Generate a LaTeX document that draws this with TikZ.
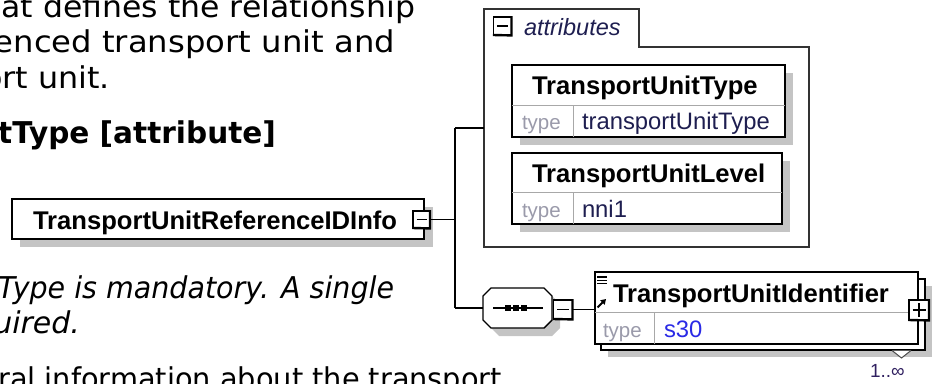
\documentclass[tikz,border=0pt]{standalone}
\usepackage{fontspec}
\newfontfamily\vfont{DejaVu Sans}
\newfontfamily\afont{Liberation Sans}
\usetikzlibrary{arrows.meta}
\definecolor{shadowc}{HTML}{C4C4C4}
\definecolor{typec}{HTML}{9A9AAA}
\definecolor{valc}{HTML}{1E1E50}
\definecolor{linkc}{HTML}{2A2AE6}
\definecolor{divc}{HTML}{A8A8A8}
\definecolor{multc}{HTML}{302060}
\newcommand\xsicon[4]{% name, x, y, size
  \node[iconbox, minimum size=#4pt] (#1) at (#2,#3) {};
  \draw[line width=2.4pt] ([yshift=1pt]#1.north east) -- ([yshift=-0.4pt]#1.south east) -- ([xshift=-0.6pt]#1.south west);
  \draw[line width=1.3pt] ([xshift=3.5pt]#1.west) -- ([xshift=-3.5pt]#1.east);
}
\newcommand\hs[2]{\scalebox{#1}[1]{#2}}
\begin{document}
\begin{tikzpicture}[x=1pt,y=-1pt,
  every node/.style={inner sep=0pt, outer sep=0pt},
  body/.style={font=\vfont\fontsize{30}{36}\selectfont, anchor=base east, text=black},
  bodyb/.style={font=\vfont\bfseries\fontsize{30}{36}\selectfont, anchor=base east, text=black},
  bodyi/.style={font=\vfont\itshape\fontsize{30}{36}\selectfont, anchor=base east, text=black},
  elname/.style={font=\afont\bfseries\fontsize{25.6}{30}\selectfont, anchor=base west, text=black},
  typelbl/.style={font=\afont\fontsize{20.5}{24}\selectfont, anchor=base west, text=typec},
  typeval/.style={font=\afont\fontsize{23.8}{28}\selectfont, anchor=base west, text=valc},
  elbox/.style={draw=black, fill=white, line width=1.4pt, anchor=north west},
  iconbox/.style={draw=black, fill=white, line width=1.3pt},
  conn/.style={draw=black, line width=1.4pt},
  divline/.style={draw=divc, line width=1pt}
]
\useasboundingbox (0,0) rectangle (932,383);
\clip (0,0) rectangle (932,383);

% ---- body text (cut off at the left edge) ----
\node[body] (t1) at (415,17) {\hs{1.05}{that defines the relationship}};
\node[body] (t2) at (395,52) {\hs{1.075}{referenced transport unit and}};
\node[body] (t3) at (110,88) {\hs{1.06}{transport unit.}};
\node[bodyb] (t4) at (276,143) {\hs{0.985}{TransportUnitType [attribute]}};
\node[bodyi] (t5) at (394,298) {\hs{0.95}{TransportUnitType is mandatory. A single}};
\node[bodyi] (t6) at (80,333) {is required.};
\node[body] (t7) at (502,389) {\hs{0.96}{General information about the transport}};

% ---- main element ----
\fill[shadowc] (20,207) rectangle (433,247);
\node[elbox, minimum width=412pt, minimum height=40pt] (main) at (12,199) {};
\node[elname] (mainname) at (33,229) {TransportUnitReferenceIDInfo};
\xsicon{mainicon}{421.5}{219.5}{17}

% ---- attributes group ----
\draw[draw=black!80, line width=1.4pt] (484,247) -- (484,9) -- (639,9) -- (639,47) -- (809,47) -- (809,247) -- cycle;
\xsicon{attricon}{502.5}{26}{18}
\node[font=\afont\itshape\fontsize{23.5}{28}\selectfont, anchor=base west, text=valc] (attrlbl) at (524,35) {attributes};
\coordinate (attrL) at (484,128);

% attribute TransportUnitType
\fill[shadowc] (520,73) rectangle (793,145);
\node[elbox, minimum width=273pt, minimum height=72pt] (a1) at (512,65) {};
\draw[divline] (512,105) -- (785,105);
\draw[divline] (573,105) -- (573,137);
\node[elname] (a1name) at (532,94) {TransportUnitType};
\node[typelbl] (a1t) at (522,129) {type};
\node[typeval] (a1v) at (582,129) {transportUnitType};

% attribute TransportUnitLevel
\fill[shadowc] (520,161) rectangle (790,232);
\node[elbox, minimum width=270pt, minimum height=71pt] (a2) at (512,153) {};
\draw[divline] (512,192) -- (782,192);
\draw[divline] (573,192) -- (573,224);
\node[elname] (a2name) at (532,182) {TransportUnitLevel};
\node[typelbl] (a2t) at (522,217) {type};
\node[typeval] (a2v) at (582,217) {nni1};

% ---- sequence compositor ----
\fill[shadowc] (499,296) -- (552,296) -- (560,304) -- (560,328) -- (552,336) -- (499,336) -- (491,328) -- (491,304) -- cycle;
\draw[fill=white, line width=1.4pt] (491,288) -- (544,288) -- (552,296) -- (552,320) -- (544,328) -- (491,328) -- (483,320) -- (483,296) -- cycle;
\coordinate (seqW) at (483,308);
\coordinate (seqE) at (552,308);
\draw[line width=1.3pt] (493,308) -- (543,308);
\foreach \xx in {508,516,524} \fill (\xx-2.8,305.2) rectangle (\xx+2.8,310.8);
\xsicon{seqicon}{563}{309.5}{19}

% ---- element TransportUnitIdentifier (1..inf) ----
\fill[shadowc] (608,286) rectangle (932,357);
\draw[fill=white, line width=1.4pt] (601,279) rectangle (925,350);
\node[elbox, minimum width=323pt, minimum height=72pt] (idel) at (595,272) {};
\draw[divline] (595,312) -- (918,312);
\draw[divline] (654,312) -- (654,344);
\draw[line width=1.1pt] (597,277) -- (607,277) (597,280.3) -- (607,280.3) (597,283.6) -- (607,283.6);
\draw[line width=1.8pt, -{Triangle[length=5pt,width=6pt]}] (597.5,307.5) -- (606,299);
\node[elname] (idname) at (613,302) {TransportUnitIdentifier};
\node[typelbl] (idt) at (603,337) {type};
\node[typeval, text=linkc] (idv) at (664,337) {s30};
\xsicon{idicon}{919}{310}{20}
\draw[line width=1.3pt] (919,303) -- (919,317);
\draw[fill=white, draw=black!70, line width=1pt] (892,350.5) -- (901.5,358) -- (911,350.5);
\node[font=\afont\fontsize{19}{22}\selectfont, anchor=base west, text=multc] (mult) at (870,377) {1..∞};

% ---- connectors ----
\coordinate (jmid) at (455,219.5);
\coordinate (jtop) at (455,128);
\coordinate (jbot) at (455,308);
\draw[conn] (mainicon.east) -- (jmid);
\draw[conn] (jtop) -- (jbot);
\draw[conn] (jtop) -- (attrL);
\draw[conn] (jbot) -- (seqW);
\draw[conn] (seqicon.east) -- (idel.west |- seqicon.east);
\end{tikzpicture}
\end{document}
